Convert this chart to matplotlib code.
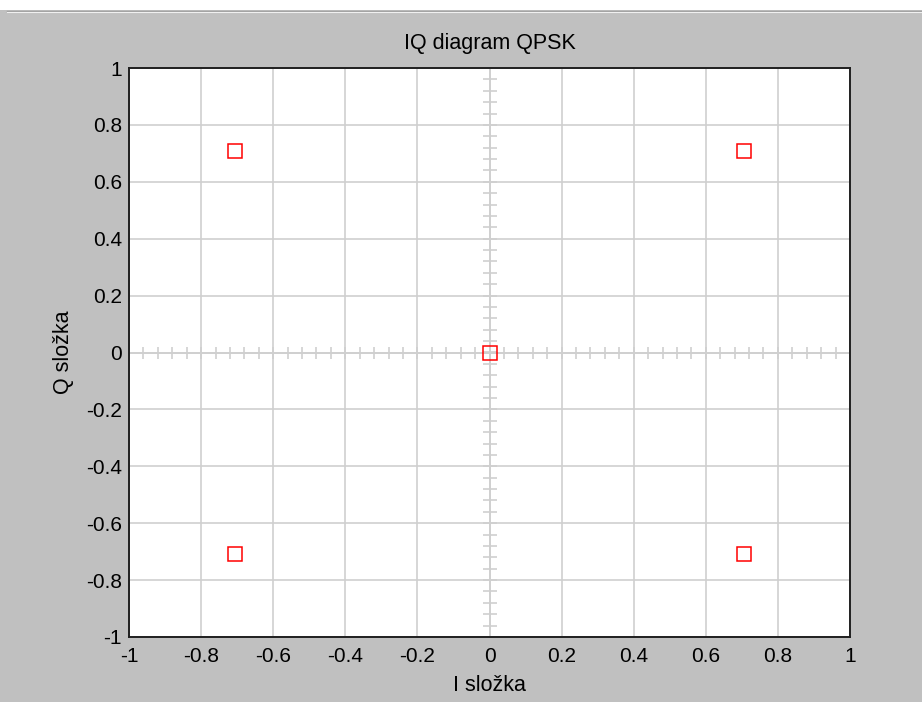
import matplotlib

matplotlib.use("Agg")
import matplotlib.pyplot as plt  # noqa: E402
import numpy as np  # noqa: E402
from matplotlib.lines import Line2D  # noqa: E402
from matplotlib.patches import Rectangle  # noqa: E402

# QPSK constellation points (plus origin marker)
I_VALUES = [0.7071, -0.7071, -0.7071, 0.7071, 0.0]
Q_VALUES = [0.7071, 0.7071, -0.7071, -0.7071, 0.0]
TICKS = [-1, -0.8, -0.6, -0.4, -0.2, 0, 0.2, 0.4, 0.6, 0.8, 1]
TICK_LABELS = ["-1", "-0.8", "-0.6", "-0.4", "-0.2", "0", "0.2", "0.4", "0.6", "0.8", "1"]
MINOR_STEP = 0.04

BG = "#c0c0c0"
GRID = "#cfcfcf"

plt.rcParams["font.family"] = ["Liberation Sans", "DejaVu Sans"]

fig = plt.figure(figsize=(9.22, 7.02), dpi=100, facecolor=BG)

# window-like strip at the top
fig.patches.append(Rectangle((0, 1 - 10 / 702), 1, 10 / 702, transform=fig.transFigure,
                             facecolor="white", edgecolor="none", zorder=0))
fig.add_artist(Line2D([7 / 922, 1], [1 - 10.5 / 702] * 2, transform=fig.transFigure,
                      color="#a0a0a0", lw=1.0))
fig.add_artist(Line2D([7 / 922, 1], [1 - 11.5 / 702] * 2, transform=fig.transFigure,
                      color="#f0f0f0", lw=0.8))

ax = fig.add_axes([129 / 922, 65 / 702, 721 / 922, 569 / 702])
ax.set_facecolor("white")
ax.set_xlim(-1, 1)
ax.set_ylim(-1, 1)
ax.set_xticks(TICKS, TICK_LABELS)
ax.set_yticks(TICKS, TICK_LABELS)
ax.tick_params(direction="in", length=0, labelsize=15, colors="#000000")
ax.tick_params(axis="x", pad=7)
ax.tick_params(axis="y", pad=5)
ax.grid(True, color=GRID, lw=1.2)
ax.set_axisbelow(True)
for s in ax.spines.values():
    s.set_linewidth(1.4)
    s.set_color("#202020")

# centre axes with small ticks
ax.axhline(0, color=GRID, lw=1.2, zorder=1)
ax.axvline(0, color=GRID, lw=1.2, zorder=1)
minor = np.arange(-1 + MINOR_STEP, 1, MINOR_STEP)
ax.plot(minor, np.zeros_like(minor), ls="none", marker="|", markersize=9,
        markeredgewidth=1.2, color=GRID, zorder=1)
ax.plot(np.zeros_like(minor), minor, ls="none", marker="_", markersize=9.5,
        markeredgewidth=1.2, color=GRID, zorder=1)

ax.plot(I_VALUES, Q_VALUES, ls="none", marker="s", markersize=10,
        markerfacecolor="none", markeredgecolor="red", markeredgewidth=1.1, zorder=3)

ax.set_title("IQ diagram QPSK", fontsize=15.5, pad=14)
ax.set_xlabel("I složka", fontsize=15.5, labelpad=7)
ax.set_ylabel("Q složka", fontsize=15.5, labelpad=9)

fig.savefig("out.png", dpi=100, facecolor=BG)
